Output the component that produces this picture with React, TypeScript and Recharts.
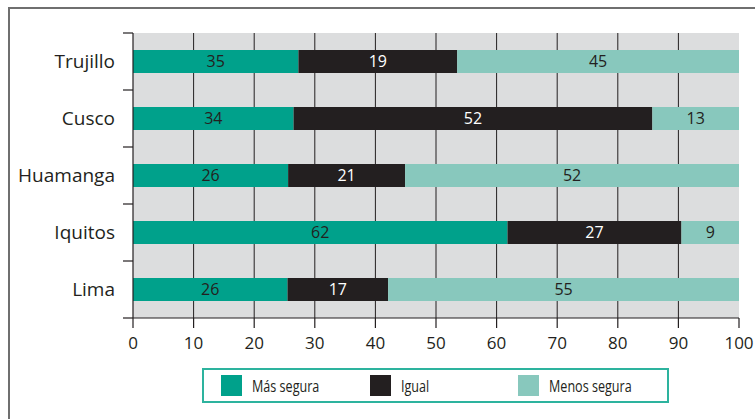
import React from 'react';
import {
  BarChart,
  Bar,
  XAxis,
  YAxis,
  CartesianGrid,
  LabelList,
} from 'recharts';

// categories, top to bottom
const cities = ['Trujillo', 'Cusco', 'Huamanga', 'Iquitos', 'Lima'];

// segment lengths as drawn in the picture (% of the axis)
const masSegura = [27.3, 26.5, 25.6, 61.8, 25.5];
const igual = [26.2, 59.2, 19.3, 28.7, 16.6];
const menosSegura = [46.5, 14.3, 55.1, 9.5, 57.9];

// numbers printed inside the segments
const masSeguraLabels = [35, 34, 26, 62, 26];
const igualLabels = [19, 52, 21, 27, 17];
const menosSeguraLabels = [45, 13, 52, 9, 55];

const xTicks = [0, 10, 20, 30, 40, 50, 60, 70, 80, 90, 100];

const seriesNames = ['Más segura', 'Igual', 'Menos segura'];
const seriesColors = ['#00A18B', '#231F20', '#88C8BD'];

const data = cities.map((city, i) => ({
  city,
  mas: masSegura[i],
  igual: igual[i],
  menos: menosSegura[i],
  masLbl: masSeguraLabels[i],
  igualLbl: igualLabels[i],
  menosLbl: menosSeguraLabels[i],
}));

const FONT = '"Open Sans", "Noto Sans", sans-serif';
const INK = '#231F20';
const labelStyle = { fontSize: 16, fontFamily: FONT };

const W = 755;
const H = 419;
const MARGIN = { top: 33, right: 16, left: 0, bottom: 71 };
const Y_AXIS_W = 133;
const X_AXIS_H = 30;
const BAND = (H - MARGIN.top - MARGIN.bottom - X_AXIS_H) / cities.length;

// category label plus tick marks on the band boundaries
const CityTick = (props: any) => {
  const { x, y, payload, index } = props;
  const half = BAND / 2;
  const last = index === cities.length - 1;
  return (
    <g>
      <line x1={Y_AXIS_W - 10} x2={Y_AXIS_W} y1={y - half} y2={y - half} stroke={INK} strokeWidth={1.2} />
      {last && (
        <line x1={Y_AXIS_W - 10} x2={Y_AXIS_W} y1={y + half} y2={y + half} stroke={INK} strokeWidth={1.2} />
      )}
      <text x={x} y={y} dy="0.355em" textAnchor="end" fill={INK} fontSize={19} fontFamily={FONT}>
        {payload.value}
      </text>
    </g>
  );
};

export default function App() {
  return (
    <div style={{ position: 'absolute', left: 0, top: 0, width: W, height: H, background: '#fff' }}>
      {/* frame: top and left rules only */}
      <div
        style={{
          position: 'absolute',
          left: 8,
          top: 7,
          width: 760,
          height: 420,
          borderTop: '2px solid #6f6f6f',
          borderLeft: '2px solid #6f6f6f',
        }}
      />
      <BarChart
        width={W}
        height={H}
        data={data}
        layout="vertical"
        margin={MARGIN}
        style={{ position: 'absolute', left: 0, top: 0 }}
      >
        <CartesianGrid
          horizontal={false}
          fill="#DCDDDE"
          stroke={INK}
          strokeWidth={1}
          verticalCoordinatesGenerator={({ offset }: any) =>
            xTicks.slice(1, -1).map((t) => offset.left + (offset.width * t) / 100)
          }
        />
        <XAxis
          type="number"
          domain={[0, 100]}
          ticks={xTicks}
          interval={0}
          height={X_AXIS_H}
          tickSize={10}
          tickMargin={9}
          axisLine={{ stroke: INK, strokeWidth: 1.2 }}
          tickLine={{ stroke: INK, strokeWidth: 1.2 }}
          tick={{ fill: INK, fontSize: 17, fontFamily: FONT }}
        />
        <YAxis
          type="category"
          dataKey="city"
          width={Y_AXIS_W}
          interval={0}
          axisLine={{ stroke: INK, strokeWidth: 1.2 }}
          tickLine={false}
          tickSize={0}
          tickMargin={18}
          tick={<CityTick />}
        />
        <Bar dataKey="mas" stackId="a" fill={seriesColors[0]} barSize={23} isAnimationActive={false}>
          <LabelList dataKey="masLbl" position="center" fill={INK} style={labelStyle} />
        </Bar>
        <Bar dataKey="igual" stackId="a" fill={seriesColors[1]} barSize={23} isAnimationActive={false}>
          <LabelList dataKey="igualLbl" position="center" fill="#ffffff" style={labelStyle} />
        </Bar>
        <Bar dataKey="menos" stackId="a" fill={seriesColors[2]} barSize={23} isAnimationActive={false}>
          <LabelList dataKey="menosLbl" position="center" fill={INK} style={labelStyle} />
        </Bar>
      </BarChart>

      {/* legend box */}
      <div
        style={{
          position: 'absolute',
          left: 202,
          top: 368,
          width: 446,
          height: 31,
          border: '2px solid #2DB39E',
          display: 'flex',
          alignItems: 'center',
          paddingLeft: 17,
          boxSizing: 'content-box',
        }}
      >
        {seriesNames.map((name, i) => (
          <div key={name} style={{ display: 'flex', alignItems: 'center', width: 153 }}>
            <span style={{ width: 21, height: 21, background: seriesColors[i], display: 'inline-block', flexShrink: 0 }} />
            <span
              style={{
                marginLeft: 10,
                fontFamily: FONT,
                fontSize: 17,
                color: INK,
                display: 'inline-block',
                whiteSpace: 'nowrap',
                transform: 'scaleX(0.74)',
                transformOrigin: 'left center',
              }}
            >
              {name}
            </span>
          </div>
        ))}
      </div>
    </div>
  );
}
